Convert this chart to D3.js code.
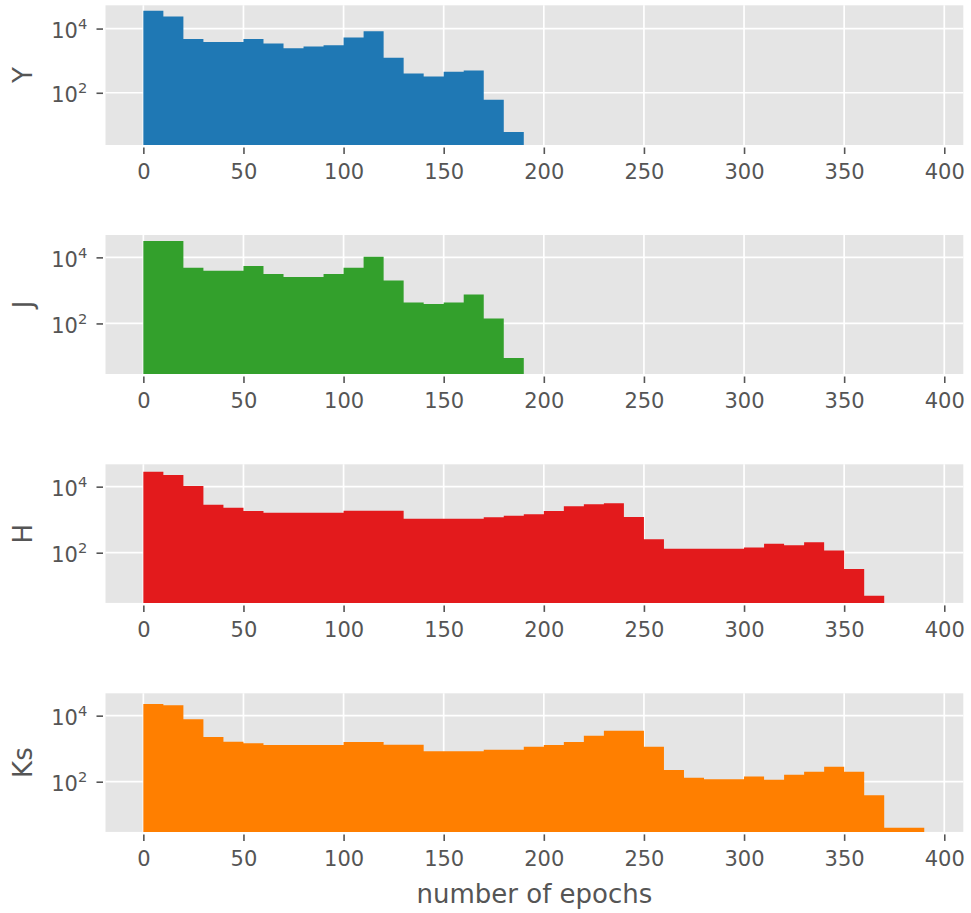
<!DOCTYPE html>
<html>
<head>
<meta charset="utf-8">
<script src="https://cdn.jsdelivr.net/npm/d3@7"></script>
<style>
  html, body { margin: 0; padding: 0; background: #ffffff; }
  svg { display: block; }
  text { font-family: "DejaVu Sans", sans-serif; fill: #555555; }
</style>
</head>
<body>
<svg id="chart" width="971" height="913"></svg>
<script>
// Histogram of epoch counts per band, bins of width 10 starting at 0.
const binWidth = 10;
const bandNames = ["Y", "J", "H", "Ks"];
const bandColors = ["#1f78b4", "#33a02c", "#e31a1c", "#ff7f00"];

const countsY = [36000, 23600, 4770, 3850, 3850, 4770, 3420, 2450, 2760, 3030,
                 5250, 8260, 1225, 399, 322, 450, 494, 61, 6];
const countsJ = [31300, 31300, 4860, 3950, 3950, 5460, 3130, 2540, 2540, 3130,
                 4860, 10500, 2010, 433, 385, 433, 757, 142, 9];
const countsH = [28500, 22600, 10500, 2850, 2310, 1830, 1630, 1630, 1630, 1630,
                 1870, 1870, 1870, 1070, 1070, 1070, 1070, 1180, 1320, 1450,
                 1830, 2540, 2920, 3130, 1200, 254, 132, 132, 132, 132,
                 145, 187, 167, 206, 117, 32, 5];
const countsKs = [22600, 20600, 7740, 2260, 1630, 1450, 1290, 1290, 1290, 1290,
                  1590, 1590, 1320, 1320, 830, 830, 830, 933, 933, 1150,
                  1290, 1590, 2480, 3510, 3510, 1150, 226, 132, 118, 118,
                  145, 115, 163, 201, 285, 201, 39, 4, 4];
const bandCounts = [countsY, countsJ, countsH, countsKs];

const xTicks = [0, 50, 100, 150, 200, 250, 300, 350, 400];
const yTicks = [1e2, 1e4];
const yTickExponents = ["2", "4"];
const xLabel = "number of epochs";

// Layout of the four stacked panels
const plotLeft = 105.5, plotRight = 963.3;
const panels = [
  { top: 5.3,   height: 139.7, logMin: 0.373, logMax: 4.725 },
  { top: 235.0, height: 139.0, logMin: 0.470, logMax: 4.677 },
  { top: 464.3, height: 138.6, logMin: 0.480, logMax: 4.677 },
  { top: 693.3, height: 138.6, logMin: 0.480, logMax: 4.677 }
];
const tickFont = 21, supFont = 14.7, labelFont = 26;

const svg = d3.select("#chart");

const x = d3.scaleLinear().domain([-18.9, 409.5]).range([plotLeft, plotRight]);

panels.forEach((p, i) => {
  const counts = bandCounts[i];
  const bottom = p.top + p.height;
  const y = d3.scaleLog()
    .domain([Math.pow(10, p.logMin), Math.pow(10, p.logMax)])
    .range([bottom, p.top]);

  const g = svg.append("g");

  // panel background
  g.append("rect")
    .attr("x", plotLeft).attr("y", p.top)
    .attr("width", plotRight - plotLeft).attr("height", p.height)
    .attr("fill", "#e5e5e5");

  // grid
  g.append("g").selectAll("line.vx").data(xTicks).join("line")
    .attr("x1", d => x(d)).attr("x2", d => x(d))
    .attr("y1", p.top).attr("y2", bottom)
    .attr("stroke", "#ffffff").attr("stroke-width", 1.7);
  g.append("g").selectAll("line.hy").data(yTicks).join("line")
    .attr("x1", plotLeft).attr("x2", plotRight)
    .attr("y1", d => y(d)).attr("y2", d => y(d))
    .attr("stroke", "#ffffff").attr("stroke-width", 1.7);

  // filled step histogram
  const steps = counts.map((c, k) => ({ x0: k * binWidth, c }));
  steps.push({ x0: counts.length * binWidth, c: counts[counts.length - 1] });
  const area = d3.area()
    .x(d => x(d.x0))
    .y0(bottom)
    .y1(d => y(d.c))
    .curve(d3.curveStepAfter);
  g.append("path").datum(steps)
    .attr("d", area)
    .attr("fill", bandColors[i]);

  // x axis
  const xAxis = d3.axisBottom(x).tickValues(xTicks).tickSize(6.5).tickPadding(10.1)
    .tickFormat(d3.format("d"));
  const xg = g.append("g").attr("transform", `translate(0,${bottom + 2.5})`).call(xAxis);
  xg.select(".domain").remove();
  xg.selectAll(".tick line").attr("stroke", "#555555").attr("stroke-width", 1.6);
  xg.selectAll(".tick text")
    .attr("font-size", tickFont).attr("font-family", "DejaVu Sans").attr("fill", "#555555");

  // y axis with powers of ten
  const yAxis = d3.axisLeft(y).tickValues(yTicks).tickSize(6.5).tickPadding(9.2);
  const yg = g.append("g").attr("transform", `translate(${plotLeft - 2.5},0)`).call(yAxis);
  yg.select(".domain").remove();
  yg.selectAll(".tick line").attr("stroke", "#555555").attr("stroke-width", 1.6);
  yg.selectAll(".tick text").each(function(d, k) {
    const t = d3.select(this);
    t.text(null)
      .attr("font-size", tickFont).attr("font-family", "DejaVu Sans").attr("fill", "#555555")
      .attr("dy", null).attr("y", 9);
    t.append("tspan").text("10");
    t.append("tspan").attr("font-size", supFont).attr("dy", -9).text(yTickExponents[k]);
  });

  // band label
  g.append("text")
    .attr("transform", `translate(31.5,${p.top + p.height / 2}) rotate(-90)`)
    .attr("text-anchor", "middle")
    .attr("font-size", labelFont)
    .text(bandNames[i]);
});

// shared x label
svg.append("text")
  .attr("x", (plotLeft + plotRight) / 2)
  .attr("y", 903)
  .attr("text-anchor", "middle")
  .attr("font-size", labelFont)
  .text(xLabel);
</script>
</body>
</html>
